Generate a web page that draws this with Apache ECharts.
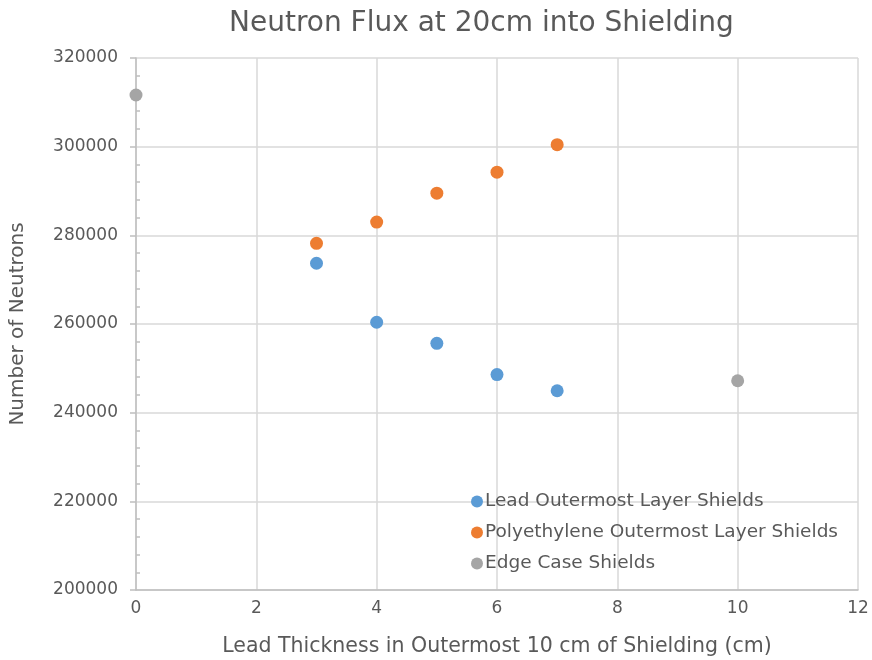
<!DOCTYPE html>
<html>
<head>
<meta charset="utf-8">
<script src="https://cdn.jsdelivr.net/npm/echarts@6/dist/echarts.min.js"></script>
<style>
  html, body { margin: 0; padding: 0; background: #ffffff; }
  #chart { width: 872px; height: 660px; }
</style>
</head>
<body>
<div id="chart"></div>
<script>
// Neutron counts at 20 cm depth for the different shield layouts
const leadX = [3, 4, 5, 6, 7];
const leadY = [273700, 260400, 255650, 248600, 244950];

const polyX = [3, 4, 5, 6, 7];
const polyY = [278200, 283000, 289500, 294250, 300450];

const edgeX = [0, 10];
const edgeY = [311650, 247200];

const seriesNames = [
  'Lead Outermost Layer Shields',
  'Polyethylene Outermost Layer Shields',
  'Edge Case Shields'
];
const seriesColors = ['#5B9BD5', '#ED7D31', '#A5A5A5'];

const pairs = (xs, ys) => xs.map((x, i) => [x, ys[i]]);

const textColor = '#595959';
const font = '"DejaVu Sans", Verdana, sans-serif';

const chart = echarts.init(document.getElementById('chart'), null, { renderer: 'canvas' });

chart.setOption({
  backgroundColor: '#ffffff',
  animation: false,
  title: {
    text: 'Neutron Flux at 20cm into Shielding',
    left: 224,
    top: 5,
    textStyle: { color: textColor, fontSize: 28, fontWeight: 'normal', fontFamily: font }
  },
  legend: {
    orient: 'vertical',
    left: 466,
    top: 487,
    itemGap: 12,
    itemWidth: 12,
    itemHeight: 12,
    icon: 'circle',
    data: seriesNames,
    textStyle: { color: textColor, fontSize: 18.5, fontFamily: font, padding: [0, 0, 0, -3] }
  },
  grid: {
    left: 136,
    right: 14,
    top: 58,
    bottom: 70,
    containLabel: false,
    outerBoundsMode: 'none'
  },
  xAxis: {
    type: 'value',
    min: 0,
    max: 12,
    interval: 2,
    name: 'Lead Thickness in Outermost 10 cm of Shielding (cm)',
    nameLocation: 'middle',
    nameGap: 46,
    nameTextStyle: { color: textColor, fontSize: 20.5, fontFamily: font },
    axisLine: { show: true, lineStyle: { color: '#bfbfbf', width: 1.5 } },
    axisTick: { show: false },
    axisLabel: { color: textColor, fontSize: 17, fontFamily: font, margin: 10 },
    splitLine: { show: true, lineStyle: { color: '#d9d9d9', width: 1.5 } }
  },
  yAxis: [
    {
      type: 'value',
      min: 200000,
      max: 320000,
      interval: 20000,
      name: 'Number of Neutrons',
      nameLocation: 'middle',
      nameGap: 108,
      nameTextStyle: { color: textColor, fontSize: 20, fontFamily: font },
      axisLine: { show: true, lineStyle: { color: '#bfbfbf', width: 1.5 } },
      axisTick: { show: true, length: 6, lineStyle: { color: '#bfbfbf', width: 1.5 } },
      axisLabel: {
        color: textColor,
        fontSize: 17,
        fontFamily: font,
        margin: 18,
        formatter: (v) => String(v)
      },
      splitLine: { show: true, lineStyle: { color: '#d9d9d9', width: 1.5 } }
    },
    {
      // minor ticks drawn on the inner side of the value axis
      type: 'value',
      position: 'left',
      min: 200000,
      max: 320000,
      interval: 20000,
      axisLine: { show: false },
      axisTick: { show: false, inside: true },
      minorTick: { show: true, splitNumber: 5, length: 4, lineStyle: { color: '#bfbfbf', width: 1.5 } },
      axisLabel: { show: false },
      splitLine: { show: false }
    }
  ],
  series: [
    {
      name: seriesNames[0],
      type: 'scatter',
      symbolSize: 13,
      itemStyle: { color: seriesColors[0], opacity: 1 },
      data: pairs(leadX, leadY)
    },
    {
      name: seriesNames[1],
      type: 'scatter',
      symbolSize: 13,
      itemStyle: { color: seriesColors[1], opacity: 1 },
      data: pairs(polyX, polyY)
    },
    {
      name: seriesNames[2],
      type: 'scatter',
      symbolSize: 13,
      itemStyle: { color: seriesColors[2], opacity: 1 },
      data: pairs(edgeX, edgeY)
    }
  ]
});
</script>
</body>
</html>
